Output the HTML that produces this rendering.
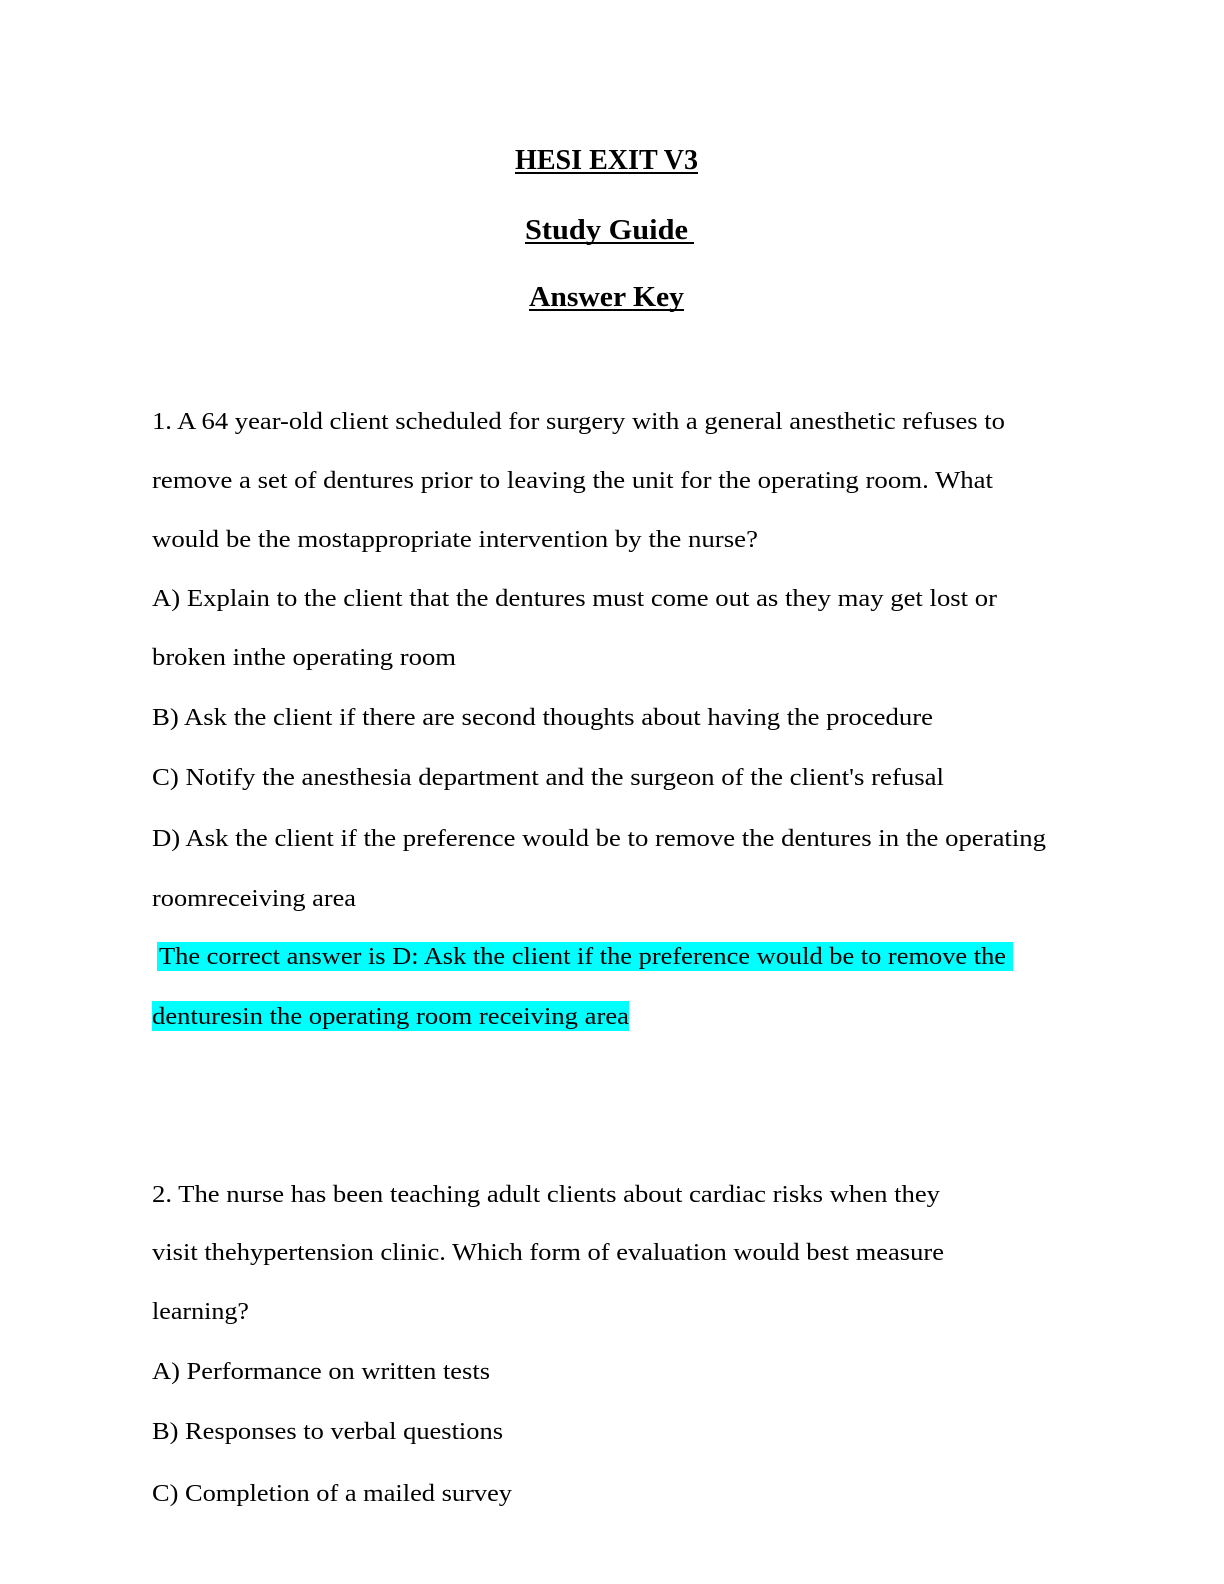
<!DOCTYPE html>
<html><head><meta charset="utf-8"><style>
html,body{margin:0;padding:0;background:#fff;}
svg{display:block}
text{font-family:"Liberation Serif",serif;font-size:24px;fill:#000}
.t{font-weight:bold;font-size:28px}
</style></head><body>
<svg width="1224" height="1584" viewBox="0 0 1224 1584">
<text class="t" x="515" y="169" textLength="183" lengthAdjust="spacingAndGlyphs">HESI EXIT V3</text>
<line x1="515" y1="173" x2="698" y2="173" stroke="#000" stroke-width="2"/>
<text class="t" x="525" y="239" textLength="163" lengthAdjust="spacingAndGlyphs">Study Guide</text>
<line x1="525" y1="243" x2="694" y2="243" stroke="#000" stroke-width="2"/>
<text class="t" x="529" y="306" textLength="155" lengthAdjust="spacingAndGlyphs">Answer Key</text>
<line x1="529" y1="310" x2="684" y2="310" stroke="#000" stroke-width="2"/>
<rect x="157" y="942" width="856" height="29" fill="#00ffff"/>
<rect x="152" y="1001" width="477" height="30" fill="#00ffff"/>
<g lengthAdjust="spacingAndGlyphs">
<text x="152" y="429" textLength="853" lengthAdjust="spacingAndGlyphs">1. A 64 year-old client scheduled for surgery with a general anesthetic refuses to</text>
<text x="152" y="488" textLength="841" lengthAdjust="spacingAndGlyphs">remove a set of dentures prior to leaving the unit for the operating room. What</text>
<text x="152" y="547" textLength="606" lengthAdjust="spacingAndGlyphs">would be the mostappropriate intervention by the nurse?</text>
<text x="152" y="606" textLength="845" lengthAdjust="spacingAndGlyphs">A) Explain to the client that the dentures must come out as they may get lost or</text>
<text x="152" y="665" textLength="304" lengthAdjust="spacingAndGlyphs">broken inthe operating room</text>
<text x="152" y="725" textLength="781" lengthAdjust="spacingAndGlyphs">B) Ask the client if there are second thoughts about having the procedure</text>
<text x="152" y="785" textLength="792" lengthAdjust="spacingAndGlyphs">C) Notify the anesthesia department and the surgeon of the client's refusal</text>
<text x="152" y="846" textLength="894" lengthAdjust="spacingAndGlyphs">D) Ask the client if the preference would be to remove the dentures in the operating</text>
<text x="152" y="906" textLength="204" lengthAdjust="spacingAndGlyphs">roomreceiving area</text>
<text x="159" y="964" textLength="847" lengthAdjust="spacingAndGlyphs">The correct answer is D: Ask the client if the preference would be to remove the</text>
<text x="152" y="1024" textLength="477" lengthAdjust="spacingAndGlyphs">denturesin the operating room receiving area</text>
<text x="152" y="1202" textLength="788" lengthAdjust="spacingAndGlyphs">2. The nurse has been teaching adult clients about cardiac risks when they</text>
<text x="152" y="1260" textLength="792" lengthAdjust="spacingAndGlyphs">visit thehypertension clinic. Which form of evaluation would best measure</text>
<text x="152" y="1319" textLength="97" lengthAdjust="spacingAndGlyphs">learning?</text>
<text x="152" y="1379" textLength="338" lengthAdjust="spacingAndGlyphs">A) Performance on written tests</text>
<text x="152" y="1439" textLength="351" lengthAdjust="spacingAndGlyphs">B) Responses to verbal questions</text>
<text x="152" y="1501" textLength="360" lengthAdjust="spacingAndGlyphs">C) Completion of a mailed survey</text>
</g>
</svg>
</body></html>
